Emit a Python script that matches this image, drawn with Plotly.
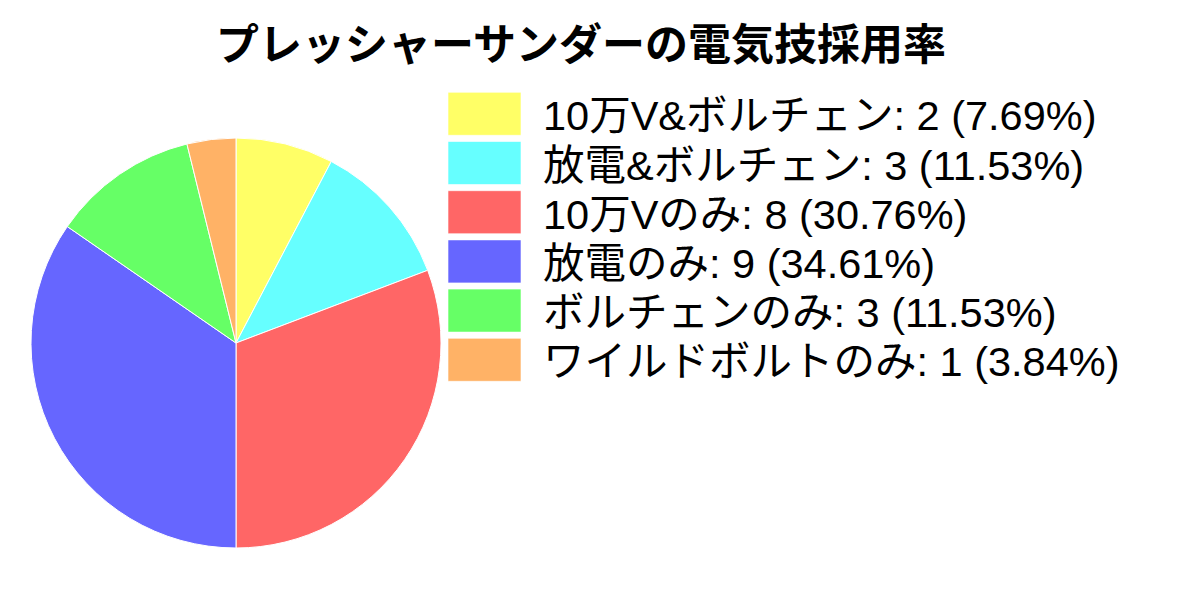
import math
import plotly.graph_objects as go

title = "プレッシャーサンダーの電気技採用率"
labels = ["10万V&ボルチェン", "放電&ボルチェン", "10万Vのみ", "放電のみ", "ボルチェンのみ", "ワイルドボルトのみ"]
values = [2, 3, 8, 9, 3, 1]
colors = ["#FFFF66", "#66FFFF", "#FF6666", "#6666FF", "#66FF66", "#FFB266"]

FONT = "Noto Sans CJK JP"
LEGEND_FONT = "Liberation Sans, Noto Sans CJK JP"
W, H = 1200, 600
OX, OY = 8, 8  # page body margin

total = sum(values)
pcts = [math.floor(v / total * 10000) / 100 for v in values]
legend_text = [f"{l}: {v} ({p:.2f}%)" for l, v, p in zip(labels, values, pcts)]


def px(x):
    return (x - OX) / W


def py(y):
    return 1 - (y - OY) / H


cx, cy, r = 236, 343, 205
fig = go.Figure(go.Pie(
    labels=labels, values=values, sort=False, direction="clockwise", rotation=0,
    marker=dict(colors=colors, line=dict(color="white", width=1)),
    textinfo="none", hoverinfo="label+value+percent", showlegend=False,
    domain=dict(x=[px(cx - r), px(cx + r)], y=[py(cy + r), py(cy - r)]),
))

shapes, annotations = [], []
sw_x0, sw_x1, sw_y0, sw_h, step, text_x = 448, 521, 92.3, 43, 49.2, 541
for i, (txt, col) in enumerate(zip(legend_text, colors)):
    y0 = sw_y0 + i * step
    shapes.append(dict(type="rect", xref="paper", yref="paper",
                       x0=px(sw_x0), x1=px(sw_x1), y0=py(y0 + sw_h), y1=py(y0),
                       fillcolor=col, line=dict(color="rgba(255,255,255,0.6)", width=1)))
    annotations.append(dict(text=txt, xref="paper", yref="paper", x=px(text_x),
                            y=py(y0 + sw_h / 2 + 2), xanchor="left", yanchor="middle",
                            showarrow=False, font=dict(family=LEGEND_FONT, size=41.5, color="black")))

fig.update_layout(
    width=W, height=H, margin=dict(l=0, r=0, t=0, b=0),
    paper_bgcolor="white", plot_bgcolor="white",
    title=dict(text=f"<b>{title}</b>", x=px(581), xanchor="center", y=py(45), yanchor="middle",
               yref="container", font=dict(family=FONT, size=43, color="black")),
    shapes=shapes, annotations=annotations,
)
fig.write_html("out.html")
